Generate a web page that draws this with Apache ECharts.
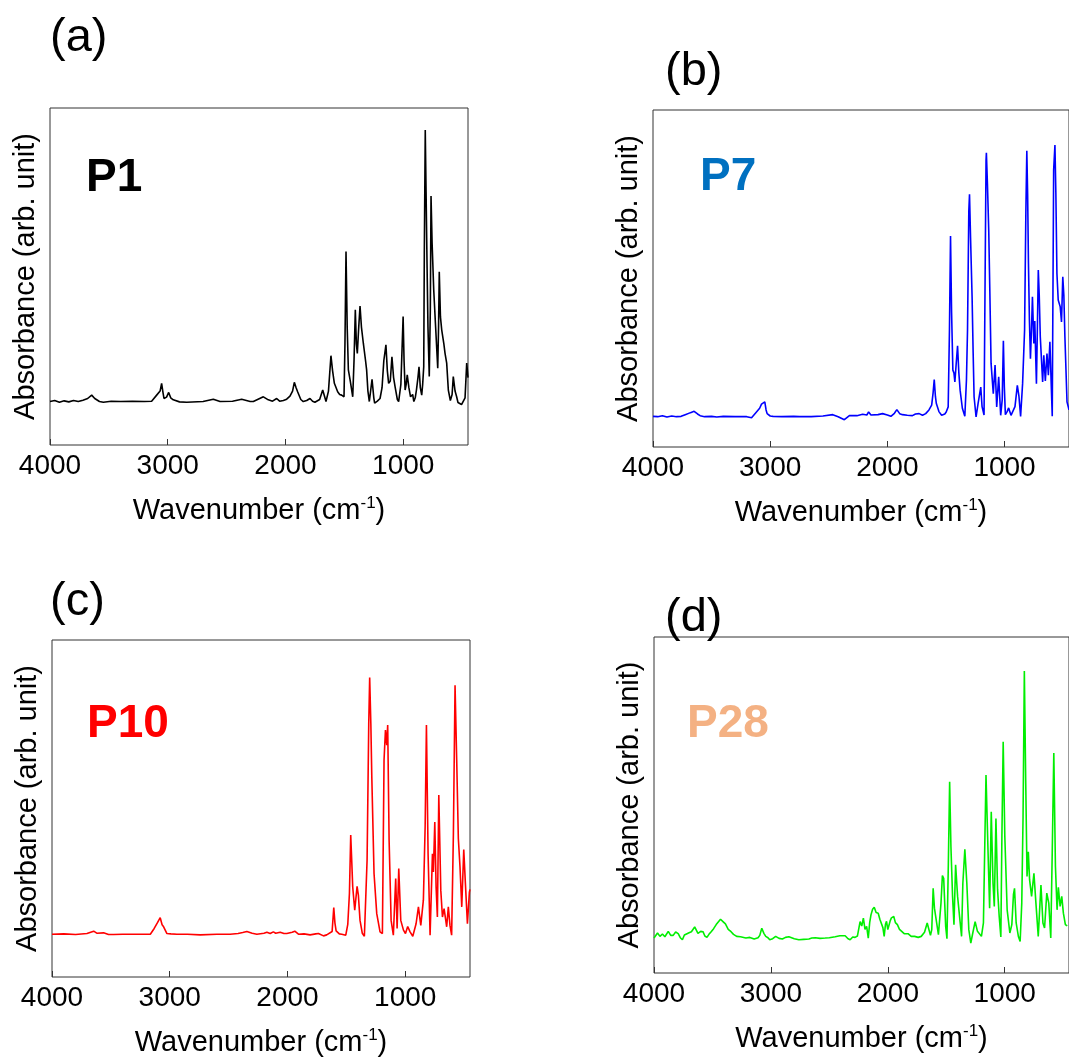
<!DOCTYPE html>
<html>
<head>
<meta charset="utf-8">
<script src="https://cdn.jsdelivr.net/npm/echarts@6/dist/echarts.min.js"></script>
<style>html,body{margin:0;padding:0;background:#fff;}#c{width:1069px;height:1063px;}</style>
</head>
<body>
<div id="c"></div>
<script>
// ---------- data ----------
const tickValues = [1000, 2000, 3000, 4000];
const panelLetters = ['(a)', '(b)', '(c)', '(d)'];
const sampleNames = ['P1', 'P7', 'P10', 'P28'];

const p1X = [4000,3960,3920,3880,3840,3800,3760,3720,3680,3646,3620,3580,3547,3480,3400,3300,3200,3137,3094,3065,3052,3040,3032,3010,2992,2975,2953,2900,2839,2700,2613,2556,2450,2372,2300,2273,2188,2146,2110,2075,2050,2018,1990,1962,1940,1925,1910,1897,1870,1849,1820,1792,1770,1750,1710,1684,1665,1656,1635,1614,1600,1585,1557,1540,1523,1503,1495,1486,1476,1466,1450,1429,1418,1407,1398,1390,1378,1367,1355,1339,1320,1311,1300,1288,1265,1250,1243,1220,1197,1180,1165,1147,1135,1124,1110,1096,1082,1068,1050,1039,1020,1001,993,984,975,966,952,938,920,910,898,888,875,866,855,843,835,826,821,813,806,798,790,779,770,764,755,741,725,707,700,694,684,673,662,655,645,631,617,600,585,575,560,547,535,521,505,490,475,461,455,450];
const p1Y = [12.9,13.2,12.7,13.1,12.8,13.2,12.9,13.3,13.8,14.8,13.8,12.9,12.7,13.0,12.9,13.0,12.9,13.0,14.8,16.0,18.3,15.5,13.8,14.2,15.6,14.0,13.4,12.8,12.7,12.9,13.6,12.9,13.0,13.6,12.9,12.9,14.3,13.4,13.0,13.8,13.0,13.2,13.6,14.5,16.0,18.6,17.0,15.8,13.5,12.9,13.2,13.8,13.0,12.7,13.5,16.3,14.0,12.9,16.0,26.5,22.0,18.3,15.8,15.0,14.8,14.3,30.0,57.4,35.0,22.3,19.0,14.3,25.0,40.1,30.0,27.2,35.0,41.2,35.0,30.2,25.0,22.3,16.0,12.9,19.5,14.0,12.4,13.0,13.8,17.0,25.0,29.7,22.0,18.3,19.0,26.2,20.0,17.0,13.5,12.9,18.0,38.1,25.0,16.3,18.0,20.8,17.0,14.3,15.0,12.9,14.0,16.3,20.0,23.2,17.0,14.8,18.0,23.2,56.9,93.5,75.0,53.9,35.0,20.3,40.0,73.9,60.0,46.0,35.0,22.8,35.0,51.4,38.0,34.1,33.6,30.0,27.2,24.3,16.3,13.2,15.0,20.3,16.0,14.4,12.6,12.4,12.0,11.9,14.0,24.3,22.0,20.0];

const p7X = [4000,3960,3920,3881,3840,3800,3760,3725,3680,3649,3620,3598,3560,3500,3456,3400,3300,3258,3200,3159,3117,3090,3074,3060,3046,3035,3026,3000,2975,2900,2800,2749,2650,2550,2466,2420,2367,2324,2260,2211,2175,2160,2140,2126,2080,2041,2000,1970,1940,1919,1895,1871,1830,1786,1760,1729,1700,1673,1645,1622,1610,1600,1590,1582,1560,1537,1510,1498,1481,1470,1461,1452,1441,1432,1424,1412,1401,1390,1379,1360,1339,1325,1316,1305,1299,1290,1277,1268,1260,1243,1226,1203,1192,1175,1166,1158,1155,1146,1135,1125,1115,1096,1081,1067,1050,1033,1020,1010,1002,993,978,965,945,931,911,891,877,863,846,829,818,810,803,796,788,779,770,762,750,742,728,720,712,704,695,675,665,652,638,626,613,603,593,581,570,562,553,542,525,514,503,494,485,467,450];
const p7Y = [9.1,9.0,9.3,8.9,9.2,9.0,9.1,9.6,10.2,10.6,9.8,9.3,9.0,9.1,8.9,9.1,9.0,9.0,9.0,8.7,10.4,11.5,12.7,12.3,13.4,11.0,9.9,9.2,9.1,9.0,9.1,9.0,9.0,9.2,9.6,9.0,8.1,9.3,9.3,9.7,9.5,10.4,9.5,9.1,9.6,9.9,9.5,9.1,10.0,11.1,9.9,9.6,9.4,9.3,9.8,9.9,9.4,9.9,11.0,12.4,16.0,20.0,15.0,12.9,10.5,9.4,9.8,10.4,11.9,35.0,62.6,40.0,22.8,22.0,19.3,25.0,30.0,22.0,16.8,11.5,9.1,20.0,34.7,70.0,75.0,62.0,44.6,28.0,14.9,8.9,12.9,17.8,12.0,9.5,50.0,85.0,87.3,78.0,64.4,45.0,24.8,15.8,24.3,11.9,20.8,9.4,14.0,31.5,18.0,9.6,10.5,11.6,9.4,9.1,12.0,18.3,15.0,9.1,18.8,34.7,70.0,87.9,75.0,54.5,38.0,26.2,35.0,44.6,30.7,37.4,18.8,35.0,52.5,45.0,32.7,19.3,27.2,19.6,27.7,21.3,31.2,20.0,9.1,82.2,89.6,75.0,51.5,43.6,41.6,37.1,50.5,45.0,32.7,13.4,11.0];

const p10X = [4000,3900,3800,3703,3646,3620,3604,3562,3520,3477,3400,3300,3200,3165,3132,3103,3081,3065,3052,3024,2990,2939,2850,2741,2600,2487,2420,2380,2345,2300,2260,2200,2175,2160,2147,2120,2100,2062,2030,2006,1960,1938,1907,1860,1808,1760,1737,1694,1667,1621,1607,1597,1587,1560,1539,1505,1488,1474,1463,1455,1446,1429,1409,1398,1384,1365,1347,1324,1310,1302,1292,1284,1265,1242,1214,1194,1180,1168,1157,1149,1137,1120,1101,1081,1069,1055,1038,1015,998,979,959,936,908,888,868,846,831,820,806,789,769,761,749,738,727,715,698,684,670,648,634,620,606,591,577,563,549,535,520,503,489,472,455,450];
const p10Y = [12.7,12.8,12.6,12.9,13.6,13.0,12.7,13.1,12.6,12.6,12.7,12.7,12.7,12.7,14.4,16.2,17.6,15.5,14.9,12.9,12.8,12.7,12.7,12.5,12.7,12.7,12.9,13.2,13.5,13.0,12.7,13.0,13.3,12.9,12.9,13.4,13.0,13.3,12.9,12.9,13.3,13.6,12.7,12.8,12.5,12.8,12.9,12.2,12.5,13.5,20.6,16.0,13.7,12.8,12.7,12.4,15.6,24.8,42.1,35.0,26.7,19.8,26.9,24.3,16.8,13.0,12.1,34.7,75.0,88.9,75.0,59.4,30.7,18.8,13.4,12.9,64.4,73.3,68.8,74.8,40.6,16.8,12.4,29.2,14.4,32.2,16.8,13.9,12.9,15.0,13.4,12.1,15.8,20.8,15.3,22.8,44.6,74.8,36.6,12.4,36.6,31.2,46.0,26.7,17.8,54.0,25.7,17.8,20.3,14.9,20.8,15.3,12.4,42.6,86.6,64.4,41.1,32.7,20.8,37.8,27.7,15.8,25.2,26.0];

const p28X = [4000,3992,3970,3949,3928,3907,3878,3857,3836,3815,3793,3775,3757,3740,3723,3700,3680,3652,3624,3600,3581,3565,3547,3530,3511,3490,3468,3431,3410,3389,3365,3341,3320,3293,3260,3214,3180,3143,3110,3095,3078,3060,3044,3025,3010,2985,2959,2930,2902,2875,2846,2800,2761,2720,2675,2650,2620,2580,2535,2500,2450,2410,2365,2340,2322,2300,2280,2260,2237,2223,2209,2195,2181,2167,2155,2144,2130,2116,2100,2082,2068,2054,2042,2031,2020,2011,2000,1992,1980,1969,1949,1935,1918,1900,1884,1860,1827,1800,1771,1740,1714,1686,1663,1635,1624,1612,1601,1584,1567,1556,1545,1533,1522,1505,1494,1482,1471,1460,1446,1434,1420,1403,1386,1369,1358,1341,1324,1307,1290,1273,1253,1233,1199,1182,1160,1143,1129,1115,1100,1089,1075,1061,1047,1033,1024,1013,999,979,956,939,925,916,902,883,868,854,843,832,820,809,798,787,770,750,733,713,690,673,659,640,623,606,594,580,566,552,541,526,512,498,481,465,450];
const p28Y = [10.4,10.8,11.9,10.9,11.6,10.8,12.4,11.2,11.2,12.2,11.7,10.5,9.9,11.3,11.7,12.0,12.3,13.7,11.8,12.4,12.3,11.0,10.6,11.5,12.3,13.2,14.4,16.0,15.3,14.6,13.0,12.3,11.5,10.9,10.8,10.4,10.6,10.1,10.5,11.2,13.3,11.8,10.9,10.5,9.9,10.2,10.9,10.3,10.1,10.6,10.8,10.2,9.9,10.0,10.1,10.4,10.5,10.3,10.4,10.5,10.8,11.1,11.1,10.2,9.9,10.7,10.6,11.0,15.3,14.0,16.3,13.0,13.9,10.4,15.0,17.3,19.0,19.6,18.0,17.8,16.0,16.3,13.5,10.9,14.5,15.4,12.9,12.4,15.5,16.4,16.8,15.0,14.4,13.0,12.8,11.7,11.7,10.9,10.9,10.6,10.9,12.1,14.9,11.2,12.9,25.2,19.3,19.0,11.4,10.9,20.8,29.0,28.2,13.9,10.2,32.7,56.9,37.6,22.8,14.4,32.2,22.8,16.8,10.9,26.7,36.8,26.7,12.9,8.9,11.9,15.3,12.4,10.9,14.9,58.9,36.6,19.3,48.0,26.7,19.8,46.0,24.8,16.8,10.7,40.6,68.8,40.6,18.8,11.9,14.4,23.4,25.2,14.9,10.9,9.4,20.8,46.5,89.9,56.4,28.7,36.1,27.7,22.8,29.7,20.8,10.9,26.2,14.9,13.4,23.8,20.8,10.4,34.7,65.5,31.7,18.8,25.5,19.8,22.8,17.8,14.4,14.0];

const lineColors = ['#000000', '#0000ff', '#ff0000', '#00ee00'];
const labelColors = ['#000000', '#0070c0', '#ff0000', '#f4b183'];

// ---------- layout ----------
const grids = [
  {left: 50, top: 108, width: 418, height: 337},
  {left: 653, top: 110, width: 418, height: 337},
  {left: 52, top: 640, width: 418, height: 337},
  {left: 654, top: 637, width: 418, height: 336}
];
const letterPos = [[50, 38], [665, 72], [50, 602], [665, 618]];
const namePos = [[86, 178], [700, 177], [87, 724], [687, 724]];

const FONT = '"Liberation Sans", Arial, Helvetica, sans-serif';
const xs = [p1X, p7X, p10X, p28X];
const ys = [p1Y, p7Y, p10Y, p28Y];

const option = {
  animation: false,
  backgroundColor: '#ffffff',
  grid: grids.map(g => Object.assign({show: true, borderColor: '#333333', borderWidth: 1, backgroundColor: 'transparent', containLabel: false}, g)),
  xAxis: grids.map((g, i) => ({
    gridIndex: i, type: 'value', inverse: true, min: 450, max: 4000,
    axisLine: {show: false},
    splitLine: {show: false},
    axisTick: {show: true, inside: true, length: 6, customValues: tickValues, lineStyle: {color: '#333333', width: 1}},
    axisLabel: {show: true, margin: 7, customValues: tickValues, color: '#000', fontSize: 28, fontFamily: FONT,
      formatter: v => String(v)},
    name: 'Wavenumber (cm{sup|-1})',
    nameLocation: 'middle', nameGap: 50,
    nameTextStyle: {color: '#000', fontSize: 29, fontFamily: FONT, lineHeight: 32,
      rich: {sup: {fontSize: 17, fontFamily: FONT, color: '#000', verticalAlign: 'top', lineHeight: 32}}}
  })),
  yAxis: grids.map((g, i) => ({
    gridIndex: i, type: 'value', min: 0, max: 100,
    axisLine: {show: false}, axisTick: {show: false}, axisLabel: {show: false}, splitLine: {show: false},
    name: 'Absorbance (arb. unit)', nameLocation: 'middle', nameRotate: 90, nameGap: 10,
    nameTextStyle: {color: '#000', fontSize: 29, fontFamily: FONT}
  })),
  series: xs.map((xArr, i) => ({
    type: 'line', xAxisIndex: i, yAxisIndex: i, showSymbol: false, symbol: 'none',
    lineStyle: {color: lineColors[i], width: 1.6}, itemStyle: {color: lineColors[i]},
    data: xArr.map((x, j) => [x, ys[i][j]]), silent: true
  })),
  graphic: [].concat(
    letterPos.map((p, i) => ({type: 'text', x: p[0], y: p[1],
      style: {text: panelLetters[i], font: '47px ' + FONT, fill: '#000', verticalAlign: 'middle', align: 'left'}})),
    namePos.map((p, i) => ({type: 'text', x: p[0], y: p[1],
      style: {text: sampleNames[i], font: 'bold 46px ' + FONT, fill: labelColors[i], verticalAlign: 'middle', align: 'left'}}))
  )
};

const chart = echarts.init(document.getElementById('c'), null, {renderer: 'canvas'});
chart.setOption(option);
</script>
</body>
</html>
